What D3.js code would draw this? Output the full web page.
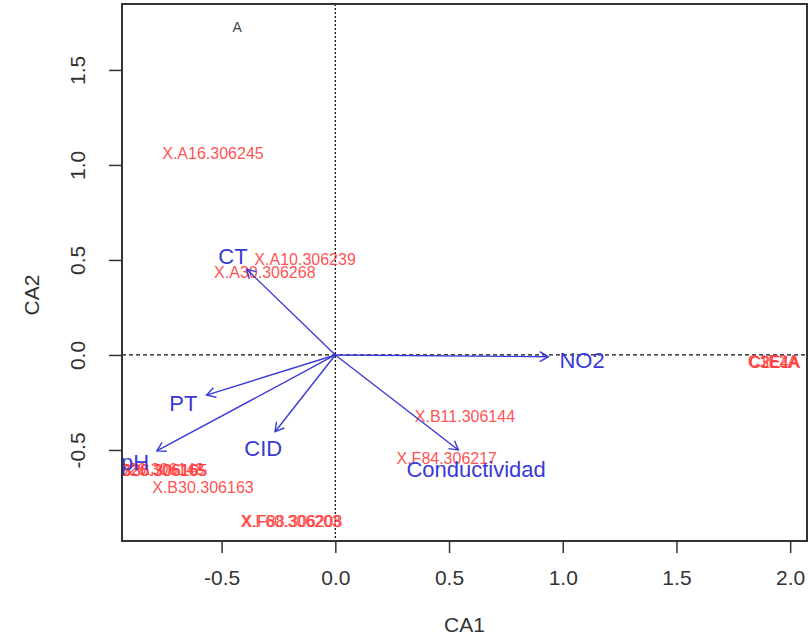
<!DOCTYPE html>
<html>
<head>
<meta charset="utf-8">
<script src="https://cdn.jsdelivr.net/npm/d3@7"></script>
<style>
  body { margin: 0; background: #fff; }
  text { font-family: "Liberation Sans", Arial, sans-serif; }
</style>
</head>
<body>
<svg width="808" height="638"></svg>
<script>
// row scores (sites)
var rowNames = ['X.A16.306245', 'X.A10.306239', 'X.A30.306268', 'X.B11.306144', 'X.F84.306217',
  'X.B30.306163', 'X.F88.306208', 'X.F60.306203', 'X.B20.306165', 'X.B26.306148', 'X.B36.306165',
  'C3E4A', 'C1E2A', 'C2E1A'];
var rowCA1 = [-0.538, -0.133, -0.31, 0.570, 0.49, -0.582, -0.19, -0.196, -0.79, -0.80, -0.785, 1.929, 1.925, 1.933];
var rowCA2 = [1.063, 0.505, 0.432, -0.325, -0.544, -0.695, -0.878, -0.878, -0.605, -0.600, -0.605, -0.037, -0.035, -0.04];

// variables (arrows)
var varNames = ['CT', 'PT', 'pH', 'CID', 'NO2', 'Conductividad'];
var varCA1 = [-0.39, -0.566, -0.785, -0.265, 0.937, 0.541];
var varCA2 = [0.451, -0.211, -0.505, -0.404, -0.009, -0.5];
var varLabCA1 = [-0.45, -0.668, -0.881, -0.317, 1.085, 0.619];
var varLabCA2 = [0.521, -0.254, -0.563, -0.491, -0.026, -0.602];

var xTicks = [-0.5, 0.0, 0.5, 1.0, 1.5, 2.0];
var yTicks = [-0.5, 0.0, 0.5, 1.0, 1.5];
var panelLabel = ['A'];
var panelCA1 = [-0.432];
var panelCA2 = [1.726];

var svg = d3.select('svg');
var L = 122, R = 807, T = 4, B = 541;

var x = d3.scaleLinear().domain([-0.938, 2.074]).range([L, R]);
var y = d3.scaleLinear().domain([-0.979, 1.847]).range([B, T]);
var fmt = function(d) { return d3.format('.1f')(d).replace('\u2212', '-'); };

svg.append('defs').append('clipPath').attr('id', 'plotclip')
  .append('rect').attr('x', L).attr('y', T).attr('width', R - L).attr('height', B - T);

// axes
var xAxis = svg.append('g').attr('transform', 'translate(0,' + B + ')')
  .call(d3.axisBottom(x).tickValues(xTicks).tickSize(12).tickPadding(17).tickFormat(fmt));
xAxis.select('.domain').remove();
xAxis.selectAll('line').attr('stroke', '#333').attr('stroke-width', 1.5);
xAxis.selectAll('text').attr('font-size', 21).attr('fill', '#333')
  .style('font-family', '"Liberation Sans", Arial, sans-serif');

var yAxis = svg.append('g').attr('transform', 'translate(' + L + ',0)')
  .call(d3.axisLeft(y).tickValues(yTicks).tickSize(13).tickFormat(fmt));
yAxis.select('.domain').remove();
yAxis.selectAll('line').attr('stroke', '#333').attr('stroke-width', 1.5);
yAxis.selectAll('text').attr('font-size', 21).attr('fill', '#333')
  .style('font-family', '"Liberation Sans", Arial, sans-serif')
  .attr('transform', 'rotate(-90)').attr('x', 0).attr('y', -44).attr('dy', '0.35em')
  .attr('text-anchor', 'middle');

// axis titles
svg.append('text').attr('x', (L + R) / 2).attr('y', 632).attr('text-anchor', 'middle')
  .attr('font-size', 21).attr('fill', '#333').text('CA1');
svg.append('text').attr('transform', 'translate(32,295) rotate(-90)')
  .attr('text-anchor', 'middle').attr('dy', '0.35em')
  .attr('font-size', 21).attr('fill', '#333').text('CA2');

var plot = svg.append('g').attr('clip-path', 'url(#plotclip)');

// zero lines
plot.append('line').attr('x1', L).attr('x2', R).attr('y1', y(0)).attr('y2', y(0))
  .attr('stroke', '#111').attr('stroke-width', 1.3).attr('stroke-dasharray', '4,3');
plot.append('line').attr('x1', x(0)).attr('x2', x(0)).attr('y1', T).attr('y2', B)
  .attr('stroke', '#111').attr('stroke-width', 1.3).attr('stroke-dasharray', '2,2');

// row labels
plot.selectAll('.row').data(rowNames).enter().append('text')
  .attr('class', 'row')
  .attr('x', function(d, i) { return x(rowCA1[i]); })
  .attr('y', function(d, i) { return y(rowCA2[i]); })
  .attr('dy', '0.35em').attr('text-anchor', 'middle')
  .attr('font-size', 16).attr('fill', '#ff3b3b').attr('fill-opacity', 0.9)
  .text(function(d) { return d; });

// arrows
var blue = '#3a3ad6';
varNames.forEach(function(name, i) {
  var x0 = x(0), y0 = y(0), x1 = x(varCA1[i]), y1 = y(varCA2[i]);
  var ang = Math.atan2(y1 - y0, x1 - x0), len = 10, wing = Math.PI / 6;
  plot.append('line').attr('x1', x0).attr('y1', y0).attr('x2', x1).attr('y2', y1)
    .attr('stroke', blue).attr('stroke-width', 1.4);
  plot.append('path')
    .attr('d', 'M' + (x1 - len * Math.cos(ang - wing)) + ',' + (y1 - len * Math.sin(ang - wing)) +
      'L' + x1 + ',' + y1 +
      'L' + (x1 - len * Math.cos(ang + wing)) + ',' + (y1 - len * Math.sin(ang + wing)))
    .attr('fill', 'none').attr('stroke', blue).attr('stroke-width', 1.4);
  plot.append('text').attr('x', x(varLabCA1[i])).attr('y', y(varLabCA2[i]))
    .attr('dy', '0.35em').attr('text-anchor', 'middle')
    .attr('font-size', 22).attr('fill', blue).text(name);
});

// panel letter
plot.selectAll('.panel').data(panelLabel).enter().append('text')
  .attr('x', function(d, i) { return x(panelCA1[i]); })
  .attr('y', function(d, i) { return y(panelCA2[i]); })
  .attr('dy', '0.35em').attr('text-anchor', 'middle')
  .attr('font-size', 14).attr('fill', '#444').text(function(d) { return d; });

// box
svg.append('rect').attr('x', L).attr('y', T).attr('width', R - L).attr('height', B - T)
  .attr('fill', 'none').attr('stroke', '#333').attr('stroke-width', 2);
</script>
</body>
</html>
